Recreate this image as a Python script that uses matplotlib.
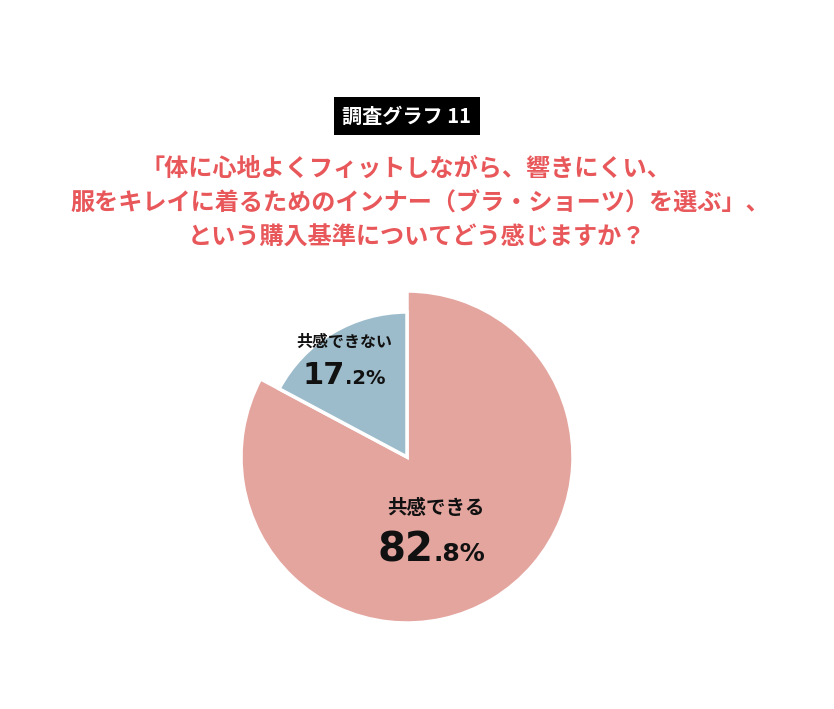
import matplotlib
matplotlib.use('Agg')
import matplotlib.pyplot as plt

plt.rcParams['font.family'] = ['Noto Sans CJK JP', 'DejaVu Sans']

# data
labels = ['共感できる', '共感できない']
values = [82.8, 17.2]
colors = ['#E4A59F', '#9DBCCB']
tag = '調査グラフ 11'
title_lines = ['「体に心地よくフィットしながら、響きにくい、',
               '服をキレイに着るためのインナー（ブラ・ショーツ）を選ぶ」、',
               'という購入基準についてどう感じますか？']

W, H = 834, 709
fig = plt.figure(figsize=(W / 100, H / 100), dpi=100)
ax = fig.add_axes([0, 0, 1, 1])

# pie (pixel coords, y flipped)
cx, cy = 407, H - 457
wedges, _ = ax.pie(values, colors=colors, startangle=90, counterclock=False,
                   radius=166, center=(cx, cy), frame=True,
                   wedgeprops=dict(edgecolor='white', linewidth=2.5))
wedges[1].set_radius(145)
ax.set_xlim(0, W)
ax.set_ylim(0, H)
ax.set_aspect('equal')
ax.axis('off')

# tag box
ax.text(407, H - 116, tag, ha='center', va='center', color='white',
        fontsize=14.5, fontweight='bold',
        bbox=dict(boxstyle='square,pad=0.42', facecolor='black', edgecolor='none'))

# title
line_x = [406, 420, 417]
for i, line in enumerate(title_lines):
    ax.text(line_x[i], H - (169 + i * 34.5), line, ha='center', va='center',
            color='#E8575A', fontsize=17.4, fontweight='bold')

# slice labels
num_font = dict(family=['DejaVu Sans'], fontweight='bold', color='#111111')

ax.text(344, H - 342, labels[1], ha='center', va='center',
        fontsize=11.5, fontweight='bold', color='#111111')
v = f'{values[1]:.1f}'.split('.')
ax.text(345, H - 384, v[0], ha='right', va='baseline', fontsize=22, **num_font)
ax.text(345, H - 384, '.' + v[1] + '%', ha='left', va='baseline', fontsize=14, **num_font)

ax.text(436, H - 508, labels[0], ha='center', va='center',
        fontsize=14, fontweight='bold', color='#111111')
v = f'{values[0]:.1f}'.split('.')
ax.text(434, H - 561, v[0], ha='right', va='baseline', fontsize=29, **num_font)
ax.text(434, H - 561, '.' + v[1] + '%', ha='left', va='baseline', fontsize=18, **num_font)

fig.savefig('out.png', dpi=100, facecolor='white')
